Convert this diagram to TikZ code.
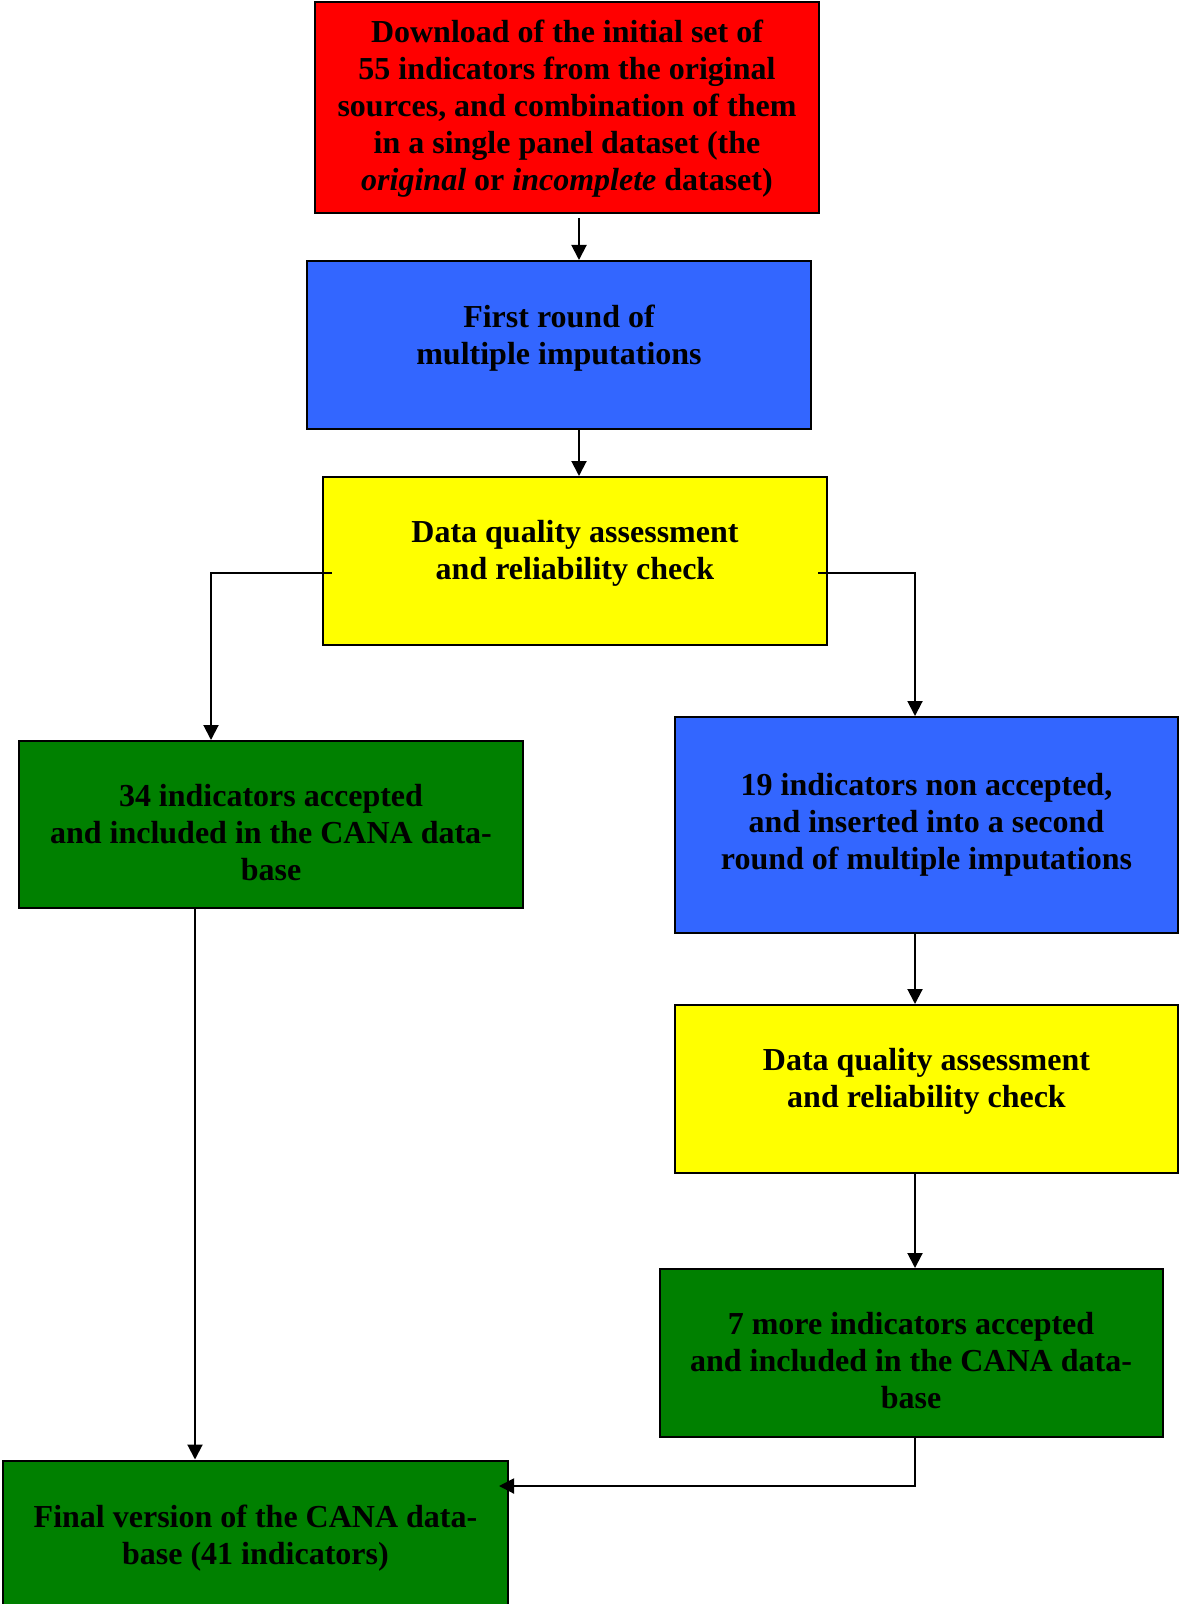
\documentclass[tikz,border=0pt]{standalone}
\usepackage{fontspec}
\setmainfont{Liberation Serif}
\usetikzlibrary{arrows.meta}
\definecolor{bxred}{HTML}{FF0000}
\definecolor{bxblue}{HTML}{3366FF}
\definecolor{bxyellow}{HTML}{FFFF00}
\definecolor{bxgreen}{HTML}{008000}
\newcommand{\boxtext}[1]{\begin{tabular}[t]{@{}c@{}}#1\end{tabular}}
\tikzset{
  flowbox/.style={draw=black, line width=1pt, inner sep=0pt, rectangle},
  boxlabel/.style={anchor=base, inner sep=0pt, font=\fontsize{16pt}{18.5pt}\selectfont\bfseries},
  arr/.style={draw=black, line width=1pt, -{Triangle[width=7.5pt,length=7.5pt]}}
}
\begin{document}
\begin{tikzpicture}[x=0.5pt,y=-0.5pt]
\clip (0,0) rectangle (1179,1604);
\useasboundingbox (0,0) rectangle (1179,1604);
% boxes
\node[flowbox, fill=bxred, minimum width=252pt, minimum height=105.5pt] (red) at (567,107.5) {};
\node[flowbox, fill=bxblue, minimum width=252pt, minimum height=84pt] (blue1) at (559,345) {};
\node[flowbox, fill=bxyellow, minimum width=252pt, minimum height=84pt] (yellow1) at (575,561) {};
\node[flowbox, fill=bxgreen, minimum width=252pt, minimum height=83.5pt] (green1) at (271,824.5) {};
\node[flowbox, fill=bxblue, minimum width=251.5pt, minimum height=108pt] (blue2) at (926.5,825) {};
\node[flowbox, fill=bxyellow, minimum width=251.5pt, minimum height=84pt] (yellow2) at (926.5,1089) {};
\node[flowbox, fill=bxgreen, minimum width=251.5pt, minimum height=84pt] (green2) at (911,1353) {};
\node[flowbox, fill=bxgreen, minimum width=252.5pt, minimum height=119.5pt] (final) at (255.5,1580) {};
% texts
\node[boxlabel] (redtxt) at ([yshift=-21pt]red.north) {\boxtext{Download of the initial set of\\55 indicators from the original\\sources, and combination of them\\in a single panel dataset (the\\\textit{original} or \textit{incomplete} dataset)}};
\node[boxlabel] (blue1txt) at ([yshift=-34pt]blue1.north) {\boxtext{First round of\\multiple imputations}};
\node[boxlabel] (yellow1txt) at ([yshift=-33pt]yellow1.north) {\boxtext{Data quality assessment\\and reliability check}};
\node[boxlabel] (green1txt) at ([yshift=-33pt]green1.north) {\boxtext{34 indicators accepted\\and included in the CANA data-\\base}};
\node[boxlabel] (blue2txt) at ([yshift=-39.5pt]blue2.north) {\boxtext{19 indicators non accepted,\\and inserted into a second\\round of multiple imputations}};
\node[boxlabel] (yellow2txt) at ([yshift=-33pt]yellow2.north) {\boxtext{Data quality assessment\\and reliability check}};
\node[boxlabel] (green2txt) at ([yshift=-33pt]green2.north) {\boxtext{7 more indicators accepted\\and included in the CANA data-\\base}};
\node[boxlabel] (finaltxt) at ([yshift=-34pt]final.north) {\boxtext{Final version of the CANA data-\\base (41 indicators)}};
% connector helpers
\coordinate (xa) at (579,0);
\coordinate (xl) at (211,0);
\coordinate (xr) at (915,0);
\coordinate (xg) at (195,0);
\coordinate (ls) at (332,573);
\coordinate (rs) at (818,573);
\coordinate (fin) at (499,1486);
% connectors
\draw[arr, shorten <=2pt] (red.south -| xa) -- (blue1.north -| xa);
\draw[arr] (blue1.south -| xa) -- (yellow1.north -| xa);
\draw[arr] (ls) -| (green1.north -| xl);
\draw[arr] (rs) -| (blue2.north -| xr);
\draw[arr] (blue2.south -| xr) -- (yellow2.north -| xr);
\draw[arr] (yellow2.south -| xr) -- (green2.north -| xr);
\draw[arr] (green2.south -| xr) |- (fin);
\draw[arr] (green1.south -| xg) -- (final.north -| xg);
\end{tikzpicture}
\end{document}
